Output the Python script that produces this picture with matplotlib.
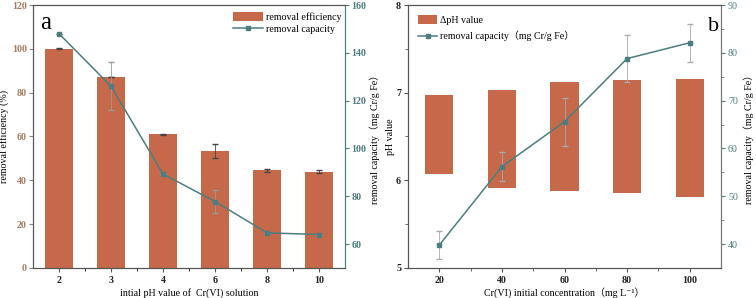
import matplotlib.pyplot as plt
import numpy as np

# panel a: initial pH
ph_labels = ["2", "3", "4", "6", "8", "10"]
eff = [100, 87, 61, 53.5, 44.5, 44]
eff_err = [0.2, 0, 0.3, 3.2, 0.5, 0.6]
cap_a = [148, 126, 89.3, 77.8, 64.7, 64.0]
cap_a_err = [0, 10, 0, 4.8, 0, 0]

# panel b: initial Cr(VI) concentration
conc = [20, 40, 60, 80, 100]
ph_low = [6.07, 5.91, 5.88, 5.86, 5.81]
ph_high = [6.97, 7.03, 7.12, 7.15, 7.16]
cap_b = [39.8, 56.2, 65.6, 78.8, 82.1]
cap_b_err = [3.0, 3.0, 5.0, 4.9, 4.0]

BAR = "#c5694a"
LINE = "#4d7d7e"
BROWN = "#a57c62"
SERIF = ["Liberation Serif", "Noto Sans CJK SC", "DejaVu Sans"]
FS = 7.2

plt.rcParams["font.family"] = SERIF
plt.rcParams["font.size"] = FS

fig = plt.figure(figsize=(7.56, 2.98), dpi=100)
ax1 = fig.add_axes([0.0437, 0.1007, 0.4127, 0.8825])
ax2 = fig.add_axes([0.5397, 0.1007, 0.4140, 0.8825])


def style_spines(ax, rcol):
    for s in ["left", "top", "bottom"]:
        ax.spines[s].set_color("#555555")
        ax.spines[s].set_linewidth(0.8)
    ax.spines["right"].set_color(rcol)
    ax.spines["right"].set_linewidth(0.8)


# ---- panel a
x = np.arange(len(ph_labels))
ax1.bar(x, eff, width=0.55, color=BAR, label="removal efficiency", zorder=2)
ax1.errorbar(x, eff, yerr=eff_err, fmt="none", ecolor="#444444", elinewidth=0.6, capsize=2.2, zorder=3)
ax1.set_xlim(-0.5, 5.5)
ax1.set_ylim(0, 120)
ax1.set_yticks(range(0, 121, 20))
ax1.set_xticks(x)
ax1.set_xticklabels(ph_labels)
ax1.set_xticks(x[:-1] + 0.5, minor=True)
ax1.tick_params(axis="y", colors="#888888", labelcolor=BROWN, length=3, pad=1.5, direction="out")
ax1.tick_params(axis="x", length=3, pad=3, direction="out", colors="#555555", labelcolor="#222222")
ax1.tick_params(axis="x", which="minor", length=2)
for t in ax1.get_yticklabels() + ax1.get_xticklabels():
    t.set_fontweight("bold")
ax1.set_xlabel("intial pH value of  Cr(VI) solution", fontsize=FS, labelpad=2)
ax1.set_ylabel("removal efficiency (%)", fontsize=FS, labelpad=2)
ax1.text(0.022, 0.975, "a", transform=ax1.transAxes, fontsize=18, va="top")

ax1r = ax1.twinx()
ax1r.errorbar(x, cap_a, yerr=cap_a_err, fmt="none", ecolor="#999999", elinewidth=0.6, capsize=2.2)
ax1r.plot(x, cap_a, color=LINE, marker="s", markersize=3.5, linewidth=1.1, label="removal capacity")
ax1r.set_ylim(50, 160)
ax1r.set_yticks(range(60, 161, 20))
ax1r.tick_params(axis="y", colors=LINE, length=3, pad=1.5, direction="out")
for t in ax1r.get_yticklabels():
    t.set_fontweight("bold")
ax1r.set_ylabel("removal capacity（mg Cr/g Fe）", fontsize=FS, labelpad=2)
style_spines(ax1, LINE)
style_spines(ax1r, LINE)

h1, l1 = ax1.get_legend_handles_labels()
h2, l2 = ax1r.get_legend_handles_labels()
ax1r.legend(h1 + h2, l1 + l2, loc="upper right", bbox_to_anchor=(1.01, 1.0), frameon=False,
            fontsize=FS, handlelength=3.0, handleheight=1.0, handletextpad=0.3,
            labelspacing=0.2, borderaxespad=0.3)

# ---- panel b
heights = [h - l for h, l in zip(ph_high, ph_low)]
ax2.bar(conc, heights, bottom=ph_low, width=9, color=BAR, label="ΔpH value", zorder=2)
ax2.set_xlim(10, 110)
ax2.set_ylim(5, 8)
ax2.set_xticks(conc)
ax2.set_xticks([30, 50, 70, 90], minor=True)
ax2.set_yticks([5, 6, 7, 8])
ax2.set_yticks([5.5, 6.5, 7.5], minor=True)
ax2.tick_params(axis="both", which="both", direction="out", colors="#555555", labelcolor="#222222")
ax2.tick_params(axis="both", which="major", length=3)
ax2.tick_params(axis="both", which="minor", length=2)
ax2.tick_params(axis="x", pad=3)
ax2.tick_params(axis="y", pad=2)
for t in ax2.get_yticklabels() + ax2.get_xticklabels():
    t.set_fontweight("bold")
ax2.set_xlabel("Cr(VI) initial concentration（mg L⁻¹）", fontsize=FS, labelpad=1)
ax2.set_ylabel("pH value", fontsize=FS, labelpad=0.5)
ax2.text(0.995, 0.955, "b", transform=ax2.transAxes, fontsize=16, va="top", ha="right")

ax2r = ax2.twinx()
ax2r.errorbar(conc, cap_b, yerr=cap_b_err, fmt="none", ecolor="#aaaaaa", elinewidth=0.6, capsize=2.2)
ax2r.plot(conc, cap_b, color=LINE, marker="s", markersize=3.5, linewidth=1.1,
          label="removal capacity（mg Cr/g Fe）")
ax2r.set_ylim(35, 90)
ax2r.set_yticks(range(40, 91, 10))
ax2r.set_yticks(range(45, 90, 10), minor=True)
ax2r.tick_params(axis="y", which="both", colors=LINE, direction="out", pad=2)
ax2r.tick_params(axis="y", which="major", length=3)
ax2r.tick_params(axis="y", which="minor", length=2)
ax2r.set_ylabel("removal capacity（mg Cr/g Fe）", fontsize=FS, labelpad=4)
style_spines(ax2, "#777777")
style_spines(ax2r, "#777777")

h1, l1 = ax2.get_legend_handles_labels()
h2, l2 = ax2r.get_legend_handles_labels()
ax2r.legend(h1 + h2, l1 + l2, loc="upper left", frameon=False, fontsize=FS,
            handlelength=1.9, handleheight=1.0, handletextpad=0.3, labelspacing=0.6,
            borderaxespad=0.6)

fig.savefig("out.png", dpi=100)
